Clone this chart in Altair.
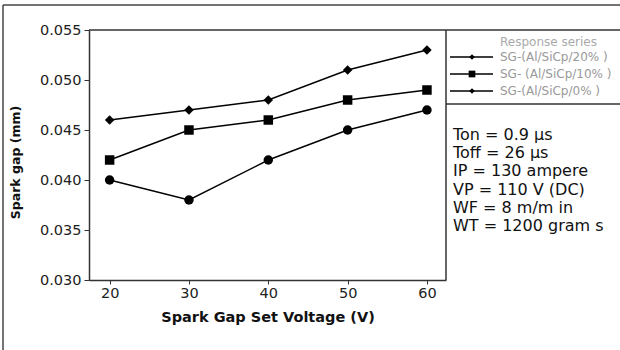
import altair as alt
import pandas as pd

voltage = [20, 30, 40, 50, 60]
sg20 = [0.046, 0.047, 0.048, 0.051, 0.053]
sg10 = [0.042, 0.045, 0.046, 0.048, 0.049]
sg0 = [0.040, 0.038, 0.042, 0.045, 0.047]
series_names = ["SG-(Al/SiCp/20% )", "SG- (Al/SiCp/10% )", "SG-(Al/SiCp/0% )"]
series_shapes = ["diamond", "square", "circle"]
legend_shapes = ["diamond", "square", "diamond"]
legend_sizes = [30, 45, 30]
x_ticks = [20, 30, 40, 50, 60]
y_ticks = [0.030, 0.035, 0.040, 0.045, 0.050, 0.055]
params_text = ["Ton = 0.9 µs", "Toff = 26 µs", "IP = 130 ampere",
               "VP = 110 V (DC)", "WF = 8 m/m in", "WT = 1200 gram s"]

rows = []
for name, vals in zip(series_names, [sg20, sg10, sg0]):
    for v, g in zip(voltage, vals):
        rows.append({"voltage": v, "gap": g, "series": name})
df = pd.DataFrame(rows)

W, H = 357, 250
FONT = "DejaVu Sans"

x_enc = alt.X("voltage:Q", scale=alt.Scale(domain=[17.4, 62.4], nice=False, zero=False),
              axis=alt.Axis(values=x_ticks, title="Spark Gap Set Voltage (V)", grid=False,
                            labelFont=FONT, labelFontSize=14.5, labelColor="#222",
                            labelPadding=2, tickSize=4, tickColor="#333", domainColor="#333",
                            domainWidth=1.5, titleFont=FONT, titleFontSize=14.5,
                            titleFontWeight="bold", titleColor="#111",
                            titleX=W / 2, titleY=37, titleBaseline="middle"))
y_enc = alt.Y("gap:Q", scale=alt.Scale(domain=[0.030, 0.055], nice=False, zero=False),
              axis=alt.Axis(values=y_ticks, format=".3f", title="Spark gap (mm)", grid=False,
                            labelFont=FONT, labelFontSize=14.5, labelColor="#222",
                            labelPadding=3, tickSize=5, tickColor="#333", domainColor="#333",
                            domainWidth=1.5, titleFont=FONT, titleFontSize=12.5,
                            titleFontWeight="bold", titleColor="#111",
                            titleX=-74, titleY=132, titleAngle=-90, titleAlign="center",
                            titleBaseline="middle"))

lines = alt.Chart(df).mark_line(color="black", strokeWidth=1.4).encode(
    x=x_enc, y=y_enc, detail="series:N")
points = alt.Chart(df).mark_point(filled=True, color="black", size=90, opacity=1).encode(
    x="voltage:Q", y="gap:Q",
    shape=alt.Shape("series:N", scale=alt.Scale(domain=series_names, range=series_shapes),
                    legend=None))

one = pd.DataFrame({"a": [0]})
layers = [lines, points]

# outer frame (left and top edges visible)
layers.append(alt.Chart(one).mark_rule(color="#444", strokeWidth=1.5).encode(
    x=alt.value(-86), x2=alt.value(560), y=alt.value(-25)))
layers.append(alt.Chart(one).mark_rule(color="#444", strokeWidth=1.5).encode(
    x=alt.value(-86), y=alt.value(-25), y2=alt.value(360)))
# plot frame top/right
layers.append(alt.Chart(one).mark_rule(color="#333", strokeWidth=1.5).encode(
    x=alt.value(0), x2=alt.value(560), y=alt.value(0)))
layers.append(alt.Chart(one).mark_rule(color="#333", strokeWidth=1.5).encode(
    x=alt.value(W), y=alt.value(0), y2=alt.value(H)))
# legend box bottom
layers.append(alt.Chart(one).mark_rule(color="#333", strokeWidth=1.5).encode(
    x=alt.value(W), x2=alt.value(560), y=alt.value(74)))

# legend
layers.append(alt.Chart(one).mark_text(text="Response series", align="left", baseline="middle",
                                        font=FONT, fontSize=12, color="#aaa").encode(
    x=alt.value(411), y=alt.value(12)))
leg_y = [27, 44, 61]
for name, shp, sz, yy in zip(series_names, legend_shapes, legend_sizes, leg_y):
    layers.append(alt.Chart(one).mark_rule(color="black", strokeWidth=1.4).encode(
        x=alt.value(361), x2=alt.value(404), y=alt.value(yy)))
    layers.append(alt.Chart(one).mark_point(filled=True, color="black", opacity=1,
                                            shape=shp, size=sz).encode(
        x=alt.value(383), y=alt.value(yy)))
    layers.append(alt.Chart(one).mark_text(text=name, align="left", baseline="middle",
                                            font=FONT, fontSize=12, color="#999").encode(
        x=alt.value(411), y=alt.value(yy)))

# parameter text box
for i, t in enumerate(params_text):
    layers.append(alt.Chart(one).mark_text(text=t, align="left", baseline="middle",
                                            font=FONT, fontSize=16, color="#111").encode(
        x=alt.value(364), y=alt.value(105 + 18.2 * i)))

chart = alt.layer(*layers).properties(
    width=W, height=H,
    autosize=alt.AutoSizeParams(type="none"),
    padding={"left": 89, "top": 30, "right": 174, "bottom": 70},
    background="white",
).configure_view(stroke=None)

chart.save("out.html", embed_options={"renderer": "svg", "actions": False})
